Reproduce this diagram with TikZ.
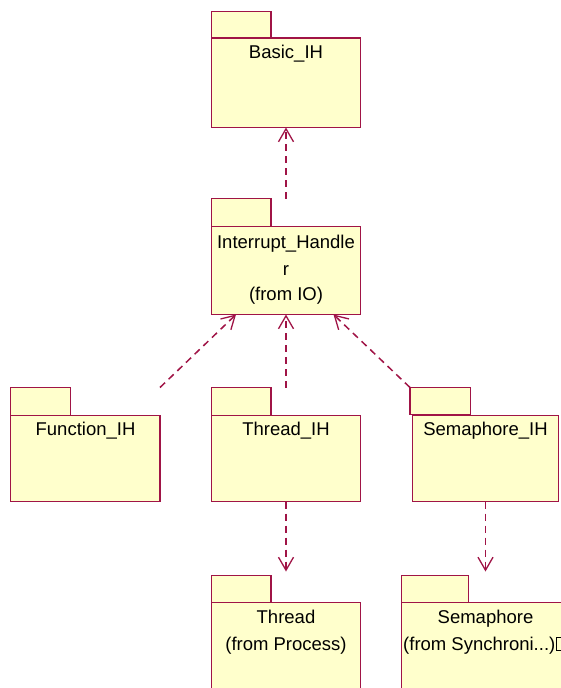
\documentclass[tikz,border=0pt]{standalone}
\usepackage{fontspec}
\setmainfont{Liberation Sans}
\usetikzlibrary{arrows.meta}
\definecolor{pkgline}{RGB}{160,20,70}
\definecolor{pkgfill}{RGB}{255,255,204}
\begin{document}
\begin{tikzpicture}[x=1pt,y=-1pt,
  pkgpart/.style={draw=pkgline,fill=pkgfill,line width=1.6pt,inner sep=0pt,outer sep=0pt,anchor=north west},
  lbl/.style={anchor=base,inner sep=0pt,font=\fontsize{18.5}{22}\selectfont},
  dep/.style={draw=pkgline,line width=1.5pt,dash pattern=on 7pt off 5pt,
    -{Straight Barb[length=13pt,width=15pt,line width=1.3pt]}}
]
\path[use as bounding box,clip] (0,0) rectangle (561,688);
\fill[white] (0,0) rectangle (561,688);
% Basic_IH
\node[pkgpart,minimum width=59.5pt,minimum height=26.5pt] (basicT) at (211.5,11.5) {};
\node[pkgpart,minimum width=149pt,minimum height=89.5pt] (basic) at (211.5,38) {};
\node[lbl] (basicL) at (286,58.5) {Basic\_IH};
% Interrupt_Handler
\node[pkgpart,minimum width=59.5pt,minimum height=28pt] (ihT) at (211.5,198.5) {};
\node[pkgpart,minimum width=149pt,minimum height=88pt] (ih) at (211.5,226.5) {};
\node[lbl] (ihL1) at (286,248.5) {Interrupt\_Handle};
\node[lbl] (ihL2) at (286,275) {r};
\node[lbl] (ihL3) at (286,300.5) {(from IO)};
% Function_IH
\node[pkgpart,minimum width=60pt,minimum height=28pt] (funcT) at (10.5,387.5) {};
\node[pkgpart,minimum width=149.5pt,minimum height=86pt] (func) at (10.5,415.5) {};
\node[lbl] (funcL) at (85.5,435.5) {Function\_IH};
% Thread_IH
\node[pkgpart,minimum width=59.5pt,minimum height=28pt] (thrIHT) at (211.5,387.5) {};
\node[pkgpart,minimum width=149pt,minimum height=86pt] (thrIH) at (211.5,415.5) {};
\node[lbl] (thrIHL) at (286,435.5) {Thread\_IH};
% Semaphore_IH
\node[pkgpart,minimum width=60.5pt,minimum height=27pt] (semIHT) at (410,387.5) {};
\node[pkgpart,minimum width=146pt,minimum height=86pt] (semIH) at (412.5,415.5) {};
\node[lbl] (semIHL) at (485.5,435.5) {Semaphore\_IH};
% Thread
\node[pkgpart,minimum width=59.5pt,minimum height=27pt] (thrT) at (211.5,575.5) {};
\node[pkgpart,minimum width=149pt,minimum height=100pt] (thr) at (211.5,602.5) {};
\node[lbl] (thrL1) at (286,623.5) {Thread};
\node[lbl] (thrL2) at (286,650) {(from Process)};
% Semaphore
\node[pkgpart,minimum width=67pt,minimum height=27pt] (semT) at (401.5,575.5) {};
\node[pkgpart,minimum width=168pt,minimum height=100pt] (sem) at (401.5,602.5) {};
\node[lbl] (semL1) at (485.5,623.5) {Semaphore};
\node[lbl,anchor=base west] (semL2) at (403,650) {(from Synchroni...)};
\draw[line width=0.9pt] ([xshift=1pt]semL2.base east) rectangle ++(5.5,-12.5);
% dependencies
\draw[dep] (ih.north |- ihT.north) -- (basic.south);
\draw[dep] (func.east |- funcT.north) -- ([xshift=-50pt]ih.south);
\draw[dep] (thrIH.north |- thrIHT.north) -- (ih.south);
\draw[dep] (semIHT.north west) -- ([xshift=47.5pt]ih.south);
\draw[dep,shorten >=4pt] (thrIH.south) -- (thrIH.south |- thrT.north);
\draw[dep,shorten >=4pt] (semIH.south) -- (semIH.south |- semT.north);
\end{tikzpicture}
\end{document}
